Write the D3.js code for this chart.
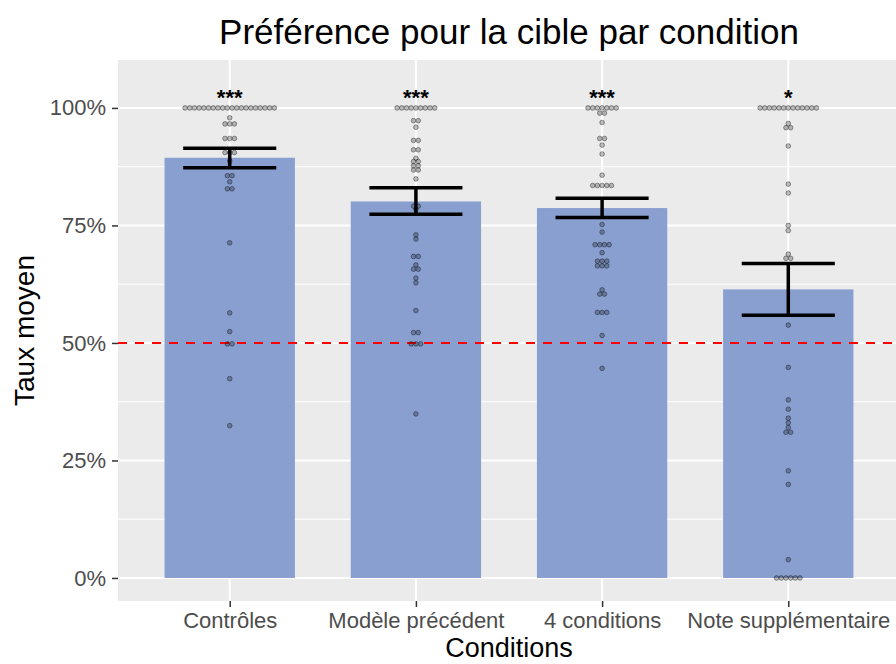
<!DOCTYPE html>
<html>
<head>
<meta charset="utf-8">
<script src="https://cdn.jsdelivr.net/npm/d3@7"></script>
<style>
  body { margin: 0; background: #fff; }
  text { font-family: "Liberation Sans", Arial, sans-serif; }
</style>
</head>
<body>
<div id="chart"></div>
<script>
var categories = ["Contrôles", "Modèle précédent", "4 conditions", "Note supplémentaire"];
var means = [0.894, 0.801, 0.787, 0.614];
var errLow = [0.873, 0.774, 0.767, 0.559];
var errHigh = [0.914, 0.830, 0.808, 0.669];
var stars = ["***", "***", "***", "*"];
var yTicks = [0, 0.25, 0.5, 0.75, 1];
var yMinor = [0.125, 0.375, 0.625, 0.875];

function rep(v, n) { return d3.range(n).map(function() { return v; }); }

var dotsControles = [].concat(rep(1, 20), [0.979], rep(0.966, 3), rep(0.935, 3), rep(0.905, 3),
  [0.887], rep(0.856, 2), [0.843], rep(0.828, 2), [0.713, 0.564, 0.524], rep(0.498, 2), [0.424, 0.324]);
var dotsModele = [].concat(rep(1, 9), rep(0.973, 2), [0.959], rep(0.931, 2), rep(0.911, 2), [0.893],
  rep(0.886, 2), rep(0.877, 2), rep(0.868, 2), [0.849], rep(0.791, 2), [0.784, 0.730, 0.721],
  rep(0.684, 2), [0.666], rep(0.657, 2), [0.638, 0.628, 0.569], rep(0.522, 2), rep(0.498, 3), [0.349]);
var dotsQuatre = [].concat(rep(1, 7), rep(0.989, 2), [0.969], rep(0.935, 2), [0.921, 0.902, 0.857],
  rep(0.835, 5), [0.752, 0.736], rep(0.709, 4), [0.692], rep(0.674, 3), rep(0.664, 3), [0.613],
  rep(0.604, 2), rep(0.565, 3), [0.516, 0.446]);
var dotsNote = [].concat(rep(1, 13), [0.967], rep(0.958, 2), [0.919, 0.838, 0.819, 0.750, 0.739, 0.689],
  rep(0.680, 2), [0.538, 0.448, 0.379, 0.359, 0.340, 0.330, 0.320], rep(0.310, 2), [0.228, 0.199, 0.039],
  rep(0, 6));
var dotGroups = [dotsControles, dotsModele, dotsQuatre, dotsNote];

var svgWidth = 896, svgHeight = 664;
var panel = { left: 118, right: 900, top: 60, bottom: 601 };

var svg = d3.select("#chart").append("svg")
  .attr("width", svgWidth)
  .attr("height", svgHeight);

svg.append("rect").attr("width", svgWidth).attr("height", svgHeight).attr("fill", "#fff");

var x = d3.scalePoint().domain(categories).range([panel.left, panel.right]).padding(0.6);
var y = d3.scaleLinear().domain([-0.049, 1.102]).range([panel.bottom, panel.top]);
var step = x.step();

svg.append("rect")
  .attr("x", panel.left).attr("y", panel.top)
  .attr("width", panel.right - panel.left).attr("height", panel.bottom - panel.top)
  .attr("fill", "#ebebeb");

// grid
svg.selectAll(".minor").data(yMinor).enter().append("line")
  .attr("x1", panel.left).attr("x2", panel.right)
  .attr("y1", d => y(d)).attr("y2", d => y(d))
  .attr("stroke", "#fff").attr("stroke-width", 1);
svg.selectAll(".major").data(yTicks).enter().append("line")
  .attr("x1", panel.left).attr("x2", panel.right)
  .attr("y1", d => y(d)).attr("y2", d => y(d))
  .attr("stroke", "#fff").attr("stroke-width", 2);
svg.selectAll(".vmajor").data(categories).enter().append("line")
  .attr("x1", d => x(d)).attr("x2", d => x(d))
  .attr("y1", panel.top).attr("y2", panel.bottom)
  .attr("stroke", "#fff").attr("stroke-width", 2);

// bars
svg.selectAll(".bar").data(categories).enter().append("rect")
  .attr("x", d => x(d) - step * 0.35)
  .attr("width", step * 0.7)
  .attr("y", (d, i) => y(means[i]))
  .attr("height", (d, i) => y(0) - y(means[i]))
  .attr("fill", "#899fd0");

// red line
svg.append("line")
  .attr("x1", panel.left).attr("x2", panel.right)
  .attr("y1", y(0.5)).attr("y2", y(0.5))
  .attr("stroke", "#ff0000").attr("stroke-width", 2)
  .attr("stroke-dasharray", "9,8");

// dots
var r = 2.35;
dotGroups.forEach(function(vals, gi) {
  var counts = d3.rollup(vals, v => v.length, v => v);
  var pts = [];
  counts.forEach(function(n, v) {
    for (var k = 0; k < n; k++) pts.push({ v: v, off: (k - (n - 1) / 2) * r * 2 });
  });
  svg.append("g").selectAll("circle").data(pts).enter().append("circle")
    .attr("cx", d => x(categories[gi]) + d.off)
    .attr("cy", d => y(d.v))
    .attr("r", r)
    .attr("fill", "#000").attr("fill-opacity", 0.25)
    .attr("stroke", "#000").attr("stroke-opacity", 0.45).attr("stroke-width", 0.8);
});

// error bars
var eb = svg.append("g").attr("stroke", "#000").attr("stroke-width", 3.5);
categories.forEach(function(c, i) {
  var cx = x(c), hw = step * 0.25;
  eb.append("line").attr("x1", cx).attr("x2", cx).attr("y1", y(errLow[i])).attr("y2", y(errHigh[i]));
  eb.append("line").attr("x1", cx - hw).attr("x2", cx + hw).attr("y1", y(errLow[i])).attr("y2", y(errLow[i]));
  eb.append("line").attr("x1", cx - hw).attr("x2", cx + hw).attr("y1", y(errHigh[i])).attr("y2", y(errHigh[i]));
});

// stars
svg.selectAll(".star").data(categories).enter().append("text")
  .attr("x", d => x(d)).attr("y", y(1.032) + 12)
  .attr("text-anchor", "middle")
  .attr("font-size", 22).attr("font-weight", "bold")
  .text((d, i) => stars[i]);

// axes
var yAxis = svg.append("g")
  .attr("transform", `translate(${panel.left},0)`)
  .call(d3.axisLeft(y).tickValues(yTicks).tickFormat(d3.format(".0%")).tickSize(6).tickPadding(6));
var xAxis = svg.append("g")
  .attr("transform", `translate(0,${panel.bottom})`)
  .call(d3.axisBottom(x).tickSize(6).tickPadding(5));
[xAxis, yAxis].forEach(function(a) {
  a.select(".domain").remove();
  a.selectAll(".tick line").attr("stroke", "#333").attr("stroke-width", 1.5);
  a.selectAll(".tick text").attr("fill", "#4d4d4d").attr("font-size", 22)
    .style("font-family", "Liberation Sans, Arial, sans-serif");
});

svg.append("text")
  .attr("x", (panel.left + panel.right) / 2).attr("y", 44)
  .attr("text-anchor", "middle").attr("font-size", 35)
  .text("Préférence pour la cible par condition");

svg.append("text")
  .attr("x", (panel.left + panel.right) / 2).attr("y", 657)
  .attr("text-anchor", "middle").attr("font-size", 27)
  .text("Conditions");

svg.append("text")
  .attr("transform", `translate(34, ${(panel.top + panel.bottom) / 2}) rotate(-90)`)
  .attr("text-anchor", "middle").attr("font-size", 28)
  .text("Taux moyen");
</script>
</body>
</html>
